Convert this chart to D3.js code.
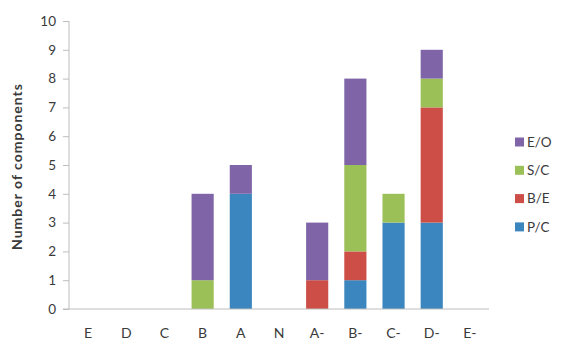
<!DOCTYPE html>
<html>
<head>
<meta charset="utf-8">
<script src="https://cdn.jsdelivr.net/npm/d3@7"></script>
<style>
  html, body { margin: 0; padding: 0; background: #fff; }
  text { font-family: Lato, "Open Sans", sans-serif; fill: #3a3a3a; }
</style>
</head>
<body>
<svg id="chart" width="562" height="344"></svg>
<script>
// Grades along the x axis
const categories = ["E", "D", "C", "B", "A", "N", "A-", "B-", "C-", "D-", "E-"];
// Component counts per grade, one array per series (stacked bottom to top)
const pc = [0, 0, 0, 0, 4, 0, 0, 1, 3, 3, 0];
const be = [0, 0, 0, 0, 0, 0, 1, 1, 0, 4, 0];
const sc = [0, 0, 0, 1, 0, 0, 0, 3, 1, 1, 0];
const eo = [0, 0, 0, 3, 1, 0, 2, 3, 0, 1, 0];
const seriesNames = ["P/C", "B/E", "S/C", "E/O"];
const seriesColors = ["#3b86be", "#cc4e47", "#9bc057", "#7f65a7"];
const yTicks = [0, 1, 2, 3, 4, 5, 6, 7, 8, 9, 10];
const yTitle = "Number of components";

const svg = d3.select("#chart");
const margin = { left: 69, right: 73, top: 21, bottom: 35 };
const W = 562, H = 344;

const x = d3.scaleBand().domain(categories)
  .range([margin.left, W - margin.right]).paddingInner(0.42).paddingOuter(0.21);
const y = d3.scaleLinear().domain([0, 10]).range([H - margin.bottom, margin.top]);

const rows = categories.map((c, i) => ({ cat: c, "P/C": pc[i], "B/E": be[i], "S/C": sc[i], "E/O": eo[i] }));
const stacked = d3.stack().keys(seriesNames)(rows);

// Y axis
const yAxis = svg.append("g")
  .attr("transform", `translate(${margin.left},0)`)
  .call(d3.axisLeft(y).tickValues(yTicks).tickSize(6).tickPadding(7));
yAxis.select(".domain").attr("stroke", "#bdbdbd").attr("d", `M0,${y(10)}V${y(0)}`);
yAxis.selectAll(".tick line").attr("stroke", "#bdbdbd");
yAxis.selectAll(".tick text").style("font-size", "13.5px").attr("fill", "#3a3a3a");

// Bars
svg.append("g").selectAll("g").data(stacked).join("g")
  .attr("fill", (d, i) => seriesColors[i])
  .selectAll("rect").data(d => d).join("rect")
  .attr("x", d => x(d.data.cat))
  .attr("width", x.bandwidth())
  .attr("y", d => y(d[1]))
  .attr("height", d => y(d[0]) - y(d[1]));

// X axis baseline and labels
const xAxis = svg.append("g")
  .attr("transform", `translate(0,${y(0)})`)
  .call(d3.axisBottom(x).tickSize(0).tickPadding(19).tickSizeOuter(0));
xAxis.select(".domain").attr("stroke", "#bdbdbd").attr("d", `M${margin.left - 6},0H${W - margin.right}`);
xAxis.selectAll(".tick text").style("font-size", "14px").attr("fill", "#3a3a3a");

// Y axis title
svg.append("text")
  .attr("transform", `translate(22,${(y(0) + y(10)) / 2 + 2}) rotate(-90)`)
  .attr("text-anchor", "middle")
  .attr("textLength", 166).attr("lengthAdjust", "spacing")
  .style("font-size", "14px").style("font-weight", "bold")
  .text(yTitle);

// Legend (top entry is the top of the stack)
const legendItems = seriesNames.map((n, i) => ({ name: n, color: seriesColors[i] })).reverse();
const lg = svg.append("g").attr("transform", "translate(515,142)");
legendItems.forEach((d, i) => {
  const g = lg.append("g").attr("transform", `translate(0,${i * 28.3})`);
  g.append("rect").attr("x", 0).attr("y", -4.5).attr("width", 9).attr("height", 9).attr("fill", d.color);
  g.append("text").attr("x", 12).attr("y", 0).attr("dy", "0.35em")
    .style("font-size", "13.5px").text(d.name);
});
</script>
</body>
</html>
